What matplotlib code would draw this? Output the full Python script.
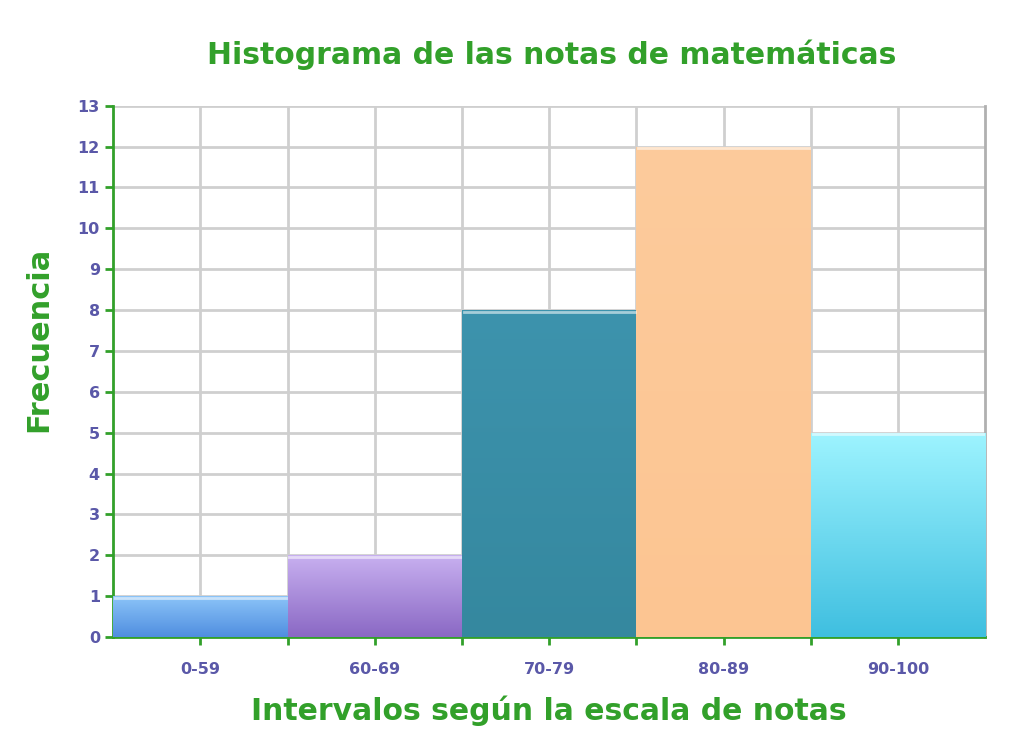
import numpy as np
import matplotlib.pyplot as plt
from matplotlib.colors import LinearSegmentedColormap

intervalos = ["0-59", "60-69", "70-79", "80-89", "90-100"]
frecuencia = [1, 2, 8, 12, 5]
# top colour / bottom colour of each bar gradient
col_top = ["#8cc4f8", "#c8b0f0", "#3d93ad", "#fdcb9c", "#9ef4ff"]
col_bot = ["#4f8ee0", "#8a68c4", "#35889f", "#fcc592", "#3fbfe0"]

verde = "#32a02a"
azul_txt = "#5a58a8"

fig = plt.figure(figsize=(10.19, 7.34), dpi=100)
ax = fig.add_axes([0.111, 0.132, 0.856, 0.724])

x = np.arange(len(intervalos))
bars = ax.bar(x, frecuencia, width=1.0, color="none", edgecolor="none", zorder=3)

grad = np.linspace(1, 0, 256).reshape(-1, 1)
for b, ct, cb in zip(bars, col_top, col_bot):
    cmap = LinearSegmentedColormap.from_list("g", [cb, ct])
    x0, y0 = b.get_x(), b.get_y()
    w, h = b.get_width(), b.get_height()
    im = ax.imshow(grad, cmap=cmap, aspect="auto", extent=[x0, x0 + w, y0, y0 + h],
                   zorder=3, vmin=0, vmax=1)
    im.set_clip_path(b)
    # light highlight on top edge
    ax.plot([x0 + 0.01, x0 + w - 0.01], [y0 + h - 0.04] * 2, color="white", lw=2, alpha=0.55, zorder=4)

ax.set_xlim(-0.5, len(intervalos) - 0.5)
ax.set_ylim(0, 13)
ax.set_yticks(range(0, 14))
ax.set_xticks(x)
ax.set_xticklabels(intervalos)
ax.set_xticks(x[:-1] + 0.5, minor=True)

ax.grid(True, which="both", color="#cfcfcf", lw=2, zorder=0)
ax.set_axisbelow(True)

ax.spines["top"].set_visible(False)
ax.spines["right"].set_color("#b0b0b0")
ax.spines["right"].set_linewidth(2)
ax.spines["left"].set_color(verde)
ax.spines["bottom"].set_color(verde)
ax.spines["left"].set_linewidth(2)
ax.spines["bottom"].set_linewidth(2)

ax.tick_params(axis="both", which="both", colors=verde, labelcolor=azul_txt,
               length=6, width=2, labelsize=11.5)
ax.tick_params(axis="x", pad=12)
for lbl in ax.get_xticklabels() + ax.get_yticklabels():
    lbl.set_fontweight("bold")
ax.set_xlim(-0.5, len(intervalos) - 0.5)

fig.text(0.541, 0.925, "Histograma de las notas de matemáticas", ha="center", va="center",
         color=verde, fontsize=21.5, fontweight="bold")
fig.text(0.539, 0.032, "Intervalos según la escala de notas", ha="center", va="center",
         color=verde, fontsize=21.5, fontweight="bold")
fig.text(0.038, 0.538, "Frecuencia", ha="center", va="center", rotation=90,
         color=verde, fontsize=22, fontweight="bold")

fig.savefig("out.png", dpi=100)
